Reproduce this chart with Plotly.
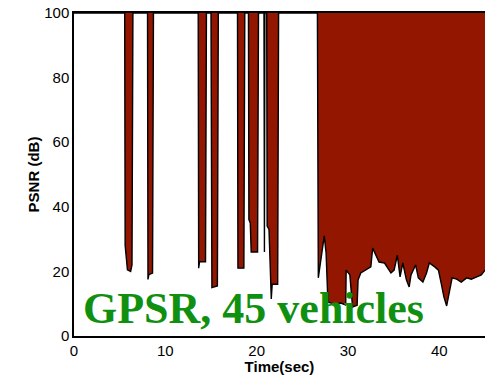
import plotly.graph_objects as go

# PSNR trace over time; 100 dB marks frames received without loss
time_s = [0, 5.55, 5.6, 5.7, 5.85, 6.2, 6.35, 6.45,
          8.05, 8.1, 8.2, 8.6, 8.7,
          13.6, 13.65, 13.75, 14.4, 14.5,
          15.0, 15.1, 15.7, 15.8,
          17.9, 17.95, 18.6, 18.7,
          19.1, 19.15, 19.3, 19.4, 20.1, 20.2,
          20.8, 20.85, 20.9,
          21.1, 21.15, 21.35, 21.5, 21.6, 21.7, 22.3, 22.4,
          26.65, 26.75, 26.95, 27.15, 27.4, 27.6, 27.8, 28.5, 29.2, 29.75,
          29.8, 30.2, 30.5, 31.0, 31.1, 31.4, 32.0, 32.5, 32.7, 33.4, 34.0, 34.4,
          34.7, 35.05, 35.4, 35.7, 36.0, 36.4, 36.7, 36.9, 37.4, 37.7, 38.2, 38.6,
          38.9, 39.5, 39.9, 40.2, 40.5, 40.8, 41.1, 41.4, 41.9, 42.4, 43.0, 43.5,
          44.1, 44.6, 45.0]
psnr_db = [100, 100, 28, 24, 20.5, 20, 22, 100,
           100, 17.5, 19, 19.5, 100,
           100, 21, 23, 23, 100,
           100, 15, 15.5, 100,
           100, 21, 21, 100,
           100, 36, 35, 26, 26, 100,
           100, 26, 100,
           100, 34, 33, 16, 11.5, 16, 16, 100,
           100, 18, 22, 27.5, 31, 25.7, 10.5, 9.8, 10.2, 9.6,
           20.4, 18.9, 9, 9.5, 17.3, 19.5, 20.4, 21.4, 27.2, 22.9, 22.6, 20.7,
           19.5, 20.4, 25, 18.3, 22.6, 17.3, 15.2, 18.9, 22, 18, 16.7, 19.5,
           22.6, 21.4, 20.4, 16.4, 12.1, 9.3, 13.3, 18, 17.6, 16.7, 18, 17.6,
           18.3, 18.9, 20.4]

ceiling = [100] * len(time_s)

fig = go.Figure()
fig.add_trace(go.Scatter(x=time_s, y=ceiling, mode="lines",
                         line=dict(width=0), hoverinfo="skip", showlegend=False))
fig.add_trace(go.Scatter(x=time_s, y=psnr_db, mode="lines", fill="tonexty",
                         fillcolor="#921600", line=dict(color="black", width=1.4),
                         showlegend=False))

fig.add_annotation(text="GPSR, 45 vehicles", x=0.018, y=0.085, xref="paper", yref="paper",
                   xanchor="left", yanchor="middle", showarrow=False,
                   font=dict(family="Liberation Serif", size=44, color="#109010",
                             weight="bold"))

tick_font = dict(family="Liberation Sans", size=15, color="black")
title_font = dict(family="Liberation Sans", size=15, color="black", weight="bold")

fig.update_layout(
    width=489, height=375,
    margin=dict(l=74, r=4, t=13, b=39),
    paper_bgcolor="white", plot_bgcolor="white",
    xaxis=dict(range=[0, 45], tickvals=[0, 10, 20, 30, 40], showgrid=False,
               zeroline=False, showline=True, linecolor="black", linewidth=1.5,
               mirror=True, ticks="", tickfont=tick_font,
               title=dict(text="Time(sec)", font=title_font, standoff=0)),
    yaxis=dict(range=[0, 100], tickvals=[0, 20, 40, 60, 80, 100], showgrid=False,
               zeroline=False, showline=True, linecolor="black", linewidth=1.5,
               ticks="", tickfont=tick_font,
               title=dict(text="PSNR (dB)", font=title_font, standoff=1)),
)

fig.write_html("out.html")
